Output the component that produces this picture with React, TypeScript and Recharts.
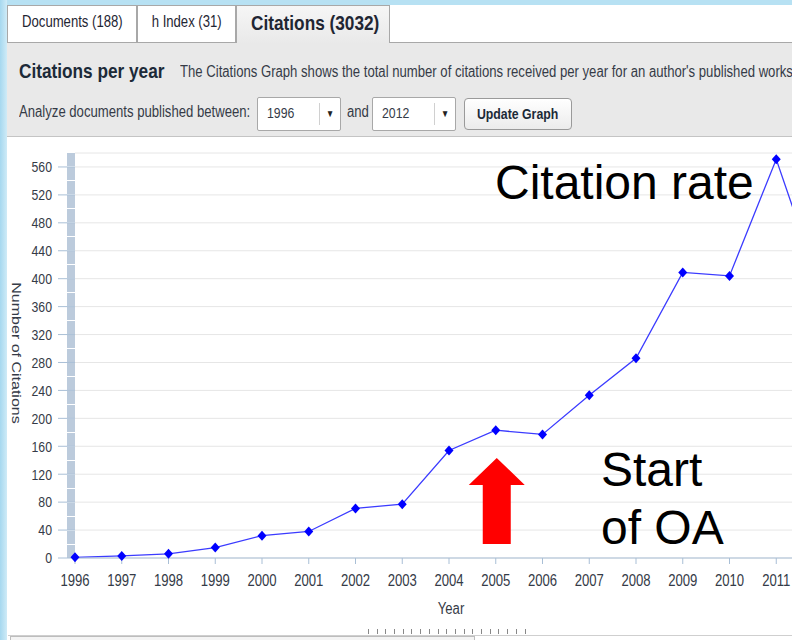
import { LineChart, Line, XAxis, YAxis, CartesianGrid, ReferenceDot } from 'recharts';

const years = [1996, 1997, 1998, 1999, 2000, 2001, 2002, 2003, 2004, 2005, 2006, 2007, 2008, 2009, 2010, 2011, 2012];
const citations = [1, 3, 6, 15, 32, 38, 71, 77, 154, 183, 177, 233, 286, 409, 404, 571, 376];
const yTicks = [0, 40, 80, 120, 160, 200, 240, 280, 320, 360, 400, 440, 480, 520, 560];
const tabLabels = ['Documents (188)', 'h Index (31)', 'Citations (3032)'];
const tabLefts = [7, 137, 236];
const tabWidths = [130, 99, 154];
const fromYear = '1996';
const toYear = '2012';

const SANS = "'Liberation Sans', Arial, sans-serif";
const SQ = 0.82; // the page screenshot is squeezed sideways
const AXIS_BLUE = '#a9bfd6';
const TEXT = '#353b47';

const chartData = years.map((year, i) => ({ year, v: citations[i] }));

function Sq({ children, origin = 'left center' }: { children: any; origin?: string }) {
  return (
    <span style={{ display: 'inline-block', transform: `scaleX(${SQ})`, transformOrigin: origin, whiteSpace: 'nowrap' }}>
      {children}
    </span>
  );
}

function XTick({ x, y, payload }: any) {
  return (
    <g transform={`translate(${x},${y})`}>
      <text transform={`scale(${SQ},1)`} textAnchor="middle" dy="0.71em" fill={TEXT} fontSize={16} fontFamily={SANS}>
        {payload.value}
      </text>
    </g>
  );
}

function YTick({ x, y, payload }: any) {
  return (
    <g transform={`translate(${x},${y})`}>
      <text transform={`scale(${SQ},1)`} textAnchor="end" dy="0.355em" fill={TEXT} fontSize={15} fontFamily={SANS}>
        {payload.value}
      </text>
    </g>
  );
}

function YearLabel({ viewBox }: any) {
  if (!viewBox) return null;
  const x = viewBox.x + viewBox.width / 2 + 2;
  const y = viewBox.y + viewBox.height - 4;
  return (
    <g transform={`translate(${x},${y})`}>
      <text transform={`scale(${SQ},1)`} textAnchor="middle" fill={TEXT} fontSize={16} fontFamily={SANS}>Year</text>
    </g>
  );
}

function Diamond(props: any) {
  const { cx, cy, index } = props;
  if (cx == null || cy == null) return null;
  return (
    <polygon key={`dm${index}`} fill="#0000ff"
      points={`${cx},${cy - 5} ${cx + 4.5},${cy} ${cx},${cy + 5} ${cx - 4.5},${cy}`} />
  );
}

// red "start of OA" arrow, anchored at the 2005 baseline
function OaArrow({ cx, cy }: any) {
  if (cx == null || cy == null) return null;
  const x = cx + 1;
  const pts = [
    [x, cy - 100], [x + 28, cy - 73], [x + 14, cy - 73], [x + 14, cy - 14],
    [x - 14, cy - 14], [x - 14, cy - 73], [x - 28, cy - 73],
  ].map(p => p.join(',')).join(' ');
  return <polygon points={pts} fill="#ff0000" />;
}

function Select({ left, value }: { left: number; value: string }) {
  return (
    <div style={{ position: 'absolute', left, top: 97, width: 84, height: 34, boxSizing: 'border-box',
      border: '1px solid #a8a8a8', borderRadius: 2, background: '#fff' }}>
      <div style={{ position: 'absolute', left: 9, top: 0, lineHeight: '30px', fontSize: 15, color: TEXT }}>
        <Sq>{value}</Sq>
      </div>
      <div style={{ position: 'absolute', left: 61, top: 5, width: 1, height: 22, background: '#d0d0d0' }} />
      <div style={{ position: 'absolute', left: 68, top: 0, lineHeight: '31px', fontSize: 10, color: '#222' }}>
        <Sq>▼</Sq>
      </div>
    </div>
  );
}

export default function App() {
  return (
    <div style={{ position: 'fixed', left: 0, top: 0, width: 792, height: 640, overflow: 'hidden',
      background: '#fff', fontFamily: SANS }}>
      <div style={{ position: 'absolute', left: 0, top: 0, width: 792, height: 5, background: '#b7e1f3' }} />
      <div style={{ position: 'absolute', left: 0, top: 0, width: 7, height: 640,
        background: 'linear-gradient(90deg, #a6d8ef, #cfebf7)' }} />

      {/* tabs */}
      <div style={{ position: 'absolute', left: 390, top: 42, width: 402, height: 1, background: '#a8a8a8' }} />
      {tabLabels.map((t, i) => {
        const active = i === 2;
        return (
          <div key={t} style={{ position: 'absolute', left: tabLefts[i], top: 5, width: tabWidths[i],
            height: active ? 39 : 38, boxSizing: 'border-box', border: '1px solid #a8a8a8',
            borderBottom: active ? 'none' : '1px solid #a8a8a8',
            background: active ? 'linear-gradient(#f6f6f6, #e9e9e9)' : '#fff',
            textAlign: 'center', color: '#1f2633', whiteSpace: 'nowrap',
            fontSize: active ? 21 : 16, fontWeight: active ? 'bold' : 'normal',
            lineHeight: active ? '34px' : '32px' }}>
            <Sq origin="center">{t}</Sq>
          </div>
        );
      })}

      {/* control panel */}
      <div style={{ position: 'absolute', left: 7, top: 43, width: 785, height: 93, background: '#e9e9e9',
        borderBottom: '1px solid #c4c4c4' }} />
      <div style={{ position: 'absolute', left: 19, top: 60, fontSize: 21, lineHeight: '21px', fontWeight: 'bold',
        color: '#1c2a38' }}><Sq>Citations per year</Sq></div>
      <div style={{ position: 'absolute', left: 180, top: 64, fontSize: 16, lineHeight: '16px', color: TEXT }}>
        <Sq>The Citations Graph shows the total number of citations received per year for an author's published works</Sq>
      </div>
      <div style={{ position: 'absolute', left: 19, top: 104, fontSize: 16, lineHeight: '16px', color: TEXT }}>
        <Sq>Analyze documents published between:</Sq>
      </div>
      <Select left={257} value={fromYear} />
      <div style={{ position: 'absolute', left: 347, top: 104, fontSize: 16, lineHeight: '16px', color: TEXT }}>
        <Sq>and</Sq>
      </div>
      <Select left={372} value={toYear} />
      <div style={{ position: 'absolute', left: 464, top: 98, width: 108, height: 32, boxSizing: 'border-box',
        border: '1px solid #9a9a9a', borderRadius: 4, background: 'linear-gradient(#ffffff, #ececec)',
        textAlign: 'center', fontSize: 15, fontWeight: 'bold', lineHeight: '29px', color: '#1c2a38' }}>
        <Sq origin="center">Update Graph</Sq>
      </div>

      {/* chart */}
      <div style={{ position: 'absolute', left: 8, top: 140 }}>
        <LineChart width={855} height={492} data={chartData}
          margin={{ top: 13, right: 40, bottom: 14, left: 10 }}>
          <CartesianGrid vertical={false} stroke="#e6e6e6" />
          <XAxis dataKey="year" type="category" interval={0} tickSize={6} tickMargin={11}
            stroke={AXIS_BLUE} height={60} tick={XTick} label={{ content: YearLabel }} />
          <YAxis width={57} domain={[0, 580]} ticks={yTicks} interval={0} tickSize={17} tickMargin={6}
            tickLine={{ stroke: AXIS_BLUE }}
            axisLine={{ stroke: '#bccbdc', strokeWidth: 8, strokeDasharray: '13 1', transform: 'translate(-4,0)' } as any}
            tick={YTick} />
          <Line type="linear" dataKey="v" stroke="#3b3bff" strokeWidth={1.3}
            dot={Diamond} activeDot={false} isAnimationActive={false} />
          <ReferenceDot x={2005} y={0} shape={OaArrow} />
        </LineChart>
      </div>

      <div style={{ position: 'absolute', left: 16, top: 353, transform: `translate(-50%, -50%) scaleX(${SQ})`,
        writingMode: 'vertical-rl', fontSize: 16, lineHeight: '16px', color: TEXT, whiteSpace: 'nowrap' }}>
        Number of Citations
      </div>

      {/* annotations */}
      <div style={{ position: 'absolute', left: 495, top: 159, fontSize: 48, lineHeight: '48px',
        color: '#000', whiteSpace: 'nowrap' }}>Citation rate</div>
      <div style={{ position: 'absolute', left: 601, top: 441, fontSize: 48, lineHeight: '58px',
        color: '#000', whiteSpace: 'nowrap' }}>Start<br />of OA</div>

      {/* bottom scroller bits */}
      <div style={{ position: 'absolute', left: 368, top: 629, width: 158, height: 5,
        background: 'repeating-linear-gradient(90deg, #888 0 1px, transparent 1px 8.7px)' }} />
      <div style={{ position: 'absolute', left: 8, top: 635, width: 784, height: 1, background: '#cfcfcf' }} />
      <div style={{ position: 'absolute', left: 10, top: 636, width: 465, height: 6, boxSizing: 'border-box',
        border: '1px solid #bdbdbd', background: '#f4f4f4' }} />
    </div>
  );
}
